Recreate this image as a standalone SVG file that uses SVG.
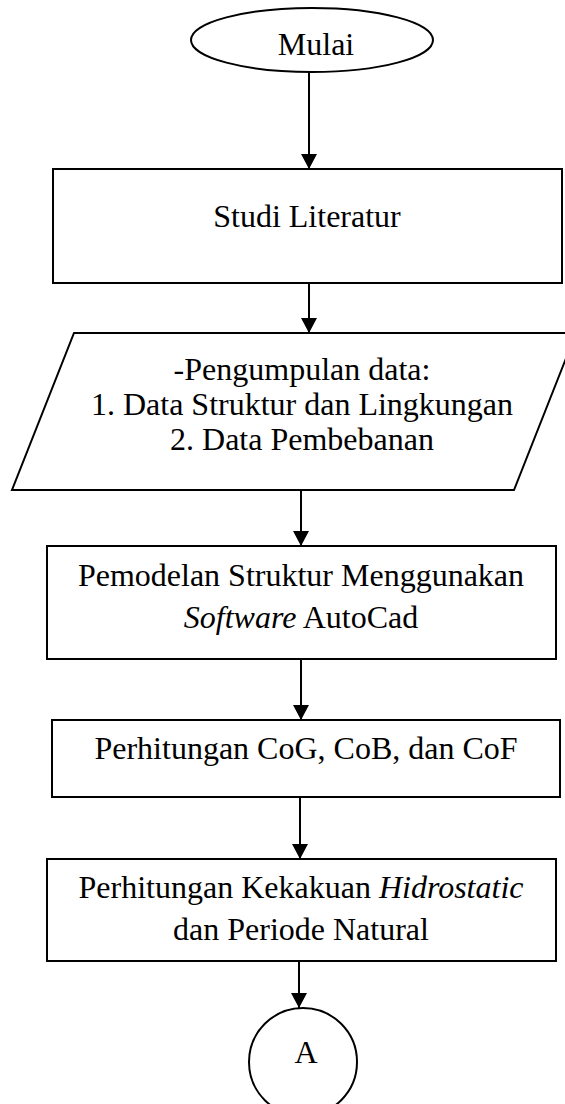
<svg xmlns="http://www.w3.org/2000/svg" width="565" height="1104" viewBox="0 0 565 1104">
<style>
.s{fill:#fff;stroke:#000;stroke-width:2}
.t{font-family:"Liberation Serif","Times New Roman",serif;font-size:32px;fill:#000;text-anchor:middle}
.i{font-style:italic}
.c{stroke:#000;stroke-width:2;fill:none}
</style>
<defs>
<marker id="ah" markerWidth="8" markerHeight="8" refX="7.5" refY="4" orient="auto" markerUnits="strokeWidth">
<path d="M0,0 L7.5,4 L0,8 Z" fill="#000"/>
</marker>
</defs>
<rect width="565" height="1104" fill="#fff"/>
<g id="connectors">
<line class="c" x1="309" y1="72" x2="309" y2="169" marker-end="url(#ah)"/>
<line class="c" x1="309" y1="283" x2="309" y2="333" marker-end="url(#ah)"/>
<line class="c" x1="301" y1="490" x2="301" y2="546" marker-end="url(#ah)"/>
<line class="c" x1="301" y1="659" x2="301" y2="720" marker-end="url(#ah)"/>
<line class="c" x1="300" y1="797" x2="300" y2="859" marker-end="url(#ah)"/>
<line class="c" x1="299" y1="961" x2="299" y2="1008" marker-end="url(#ah)"/>
</g>
<g id="start">
<ellipse class="s" cx="312" cy="40" rx="121" ry="32"/>
<text class="t" x="316" y="55">Mulai</text>
</g>
<g id="studi">
<rect class="s" x="53" y="169" width="509" height="114"/>
<text class="t" x="307" y="227">Studi Literatur</text>
</g>
<g id="data">
<polygon class="s" points="74,333 576,333 514,490 12,490"/>
<text class="t" x="302" y="380">-Pengumpulan data:</text>
<text class="t" x="302" y="415">1. Data Struktur dan Lingkungan</text>
<text class="t" x="302" y="450">2. Data Pembebanan</text>
</g>
<g id="pemodelan">
<rect class="s" x="47" y="546" width="509" height="113"/>
<text class="t" x="301" y="586">Pemodelan Struktur Menggunakan</text>
<text class="t" x="301" y="628"><tspan class="i">Software</tspan> AutoCad</text>
</g>
<g id="cog">
<rect class="s" x="52" y="720" width="508" height="77"/>
<text class="t" x="306" y="759">Perhitungan CoG, CoB, dan CoF</text>
</g>
<g id="kekakuan">
<rect class="s" x="47" y="859" width="509" height="102"/>
<text class="t" x="301" y="898">Perhitungan Kekakuan <tspan class="i">Hidrostatic</tspan></text>
<text class="t" x="301" y="940">dan Periode Natural</text>
</g>
<g id="connector-a">
<circle class="s" cx="303" cy="1062" r="54"/>
<text class="t" x="306" y="1063">A</text>
</g>
</svg>
